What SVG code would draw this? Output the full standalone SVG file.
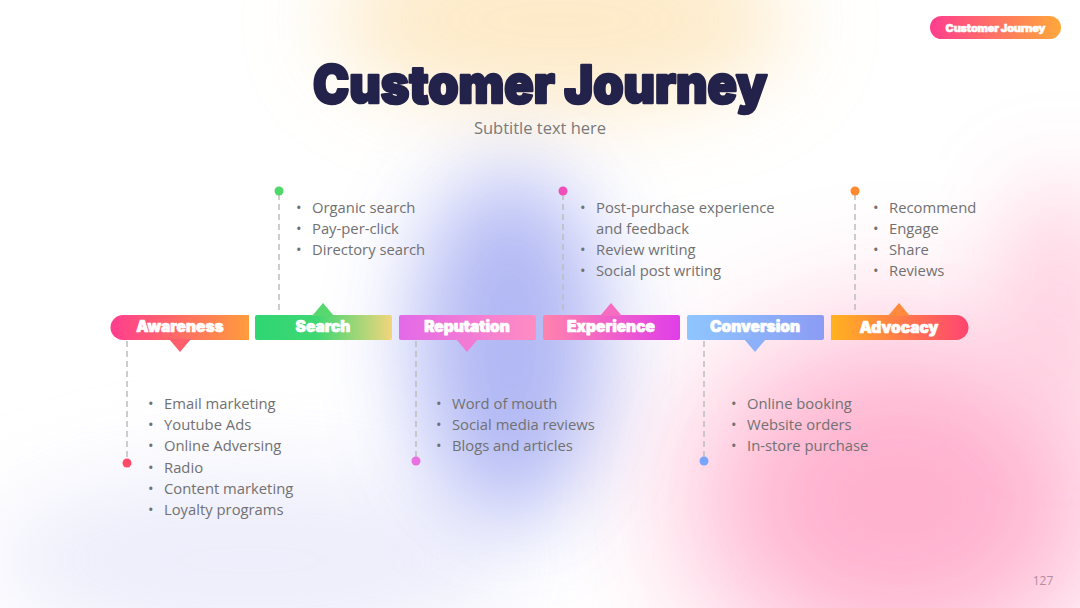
<svg xmlns="http://www.w3.org/2000/svg" width="1080" height="608" viewBox="0 0 1080 608">
<defs>
<style>
.lbl{font-family:Inter,"Liberation Sans",sans-serif;font-weight:900;font-size:15.5px;fill:#fff;stroke:#fff;stroke-width:0.7;stroke-linejoin:round;text-anchor:middle}
.li{font-family:"Open Sans","Liberation Sans",sans-serif;font-size:14.8px;fill:#717171}
.dash{stroke:#bdbdbd;stroke-width:1.5;stroke-dasharray:6 4;fill:none}
</style>
<filter id="blur" x="-50%" y="-50%" width="200%" height="200%"><feGaussianBlur stdDeviation="45"/></filter>
<filter id="blur2" x="-50%" y="-50%" width="200%" height="200%"><feGaussianBlur stdDeviation="70"/></filter>
<linearGradient id="gAw" x1="0" x2="1"><stop offset="0" stop-color="#ff3d8e"/><stop offset="1" stop-color="#ff9c3c"/></linearGradient>
<linearGradient id="gSe" x1="0" x2="1"><stop offset="0" stop-color="#2fd673"/><stop offset="0.45" stop-color="#3fd772"/><stop offset="1" stop-color="#f2d57c"/></linearGradient>
<linearGradient id="gRe" x1="0" x2="1"><stop offset="0" stop-color="#e36ae8"/><stop offset="1" stop-color="#ff8cc2"/></linearGradient>
<linearGradient id="gEx" x1="0" x2="1"><stop offset="0" stop-color="#ff82ad"/><stop offset="1" stop-color="#e03ee8"/></linearGradient>
<linearGradient id="gCo" x1="0" x2="1"><stop offset="0" stop-color="#8fc6ff"/><stop offset="1" stop-color="#8b9cf4"/></linearGradient>
<linearGradient id="gAd" x1="0" x2="1"><stop offset="0" stop-color="#ffb21f"/><stop offset="1" stop-color="#ff4571"/></linearGradient>
<linearGradient id="gPill" x1="0" x2="1"><stop offset="0" stop-color="#ff3d8e"/><stop offset="1" stop-color="#ffa83a"/></linearGradient>
</defs>
<rect width="1080" height="608" fill="#ffffff"/>
<g id="background">
<ellipse cx="560" cy="20" rx="230" ry="90" fill="#fde3b5" opacity="0.75" filter="url(#blur)"/>
<ellipse cx="250" cy="560" rx="260" ry="90" fill="#e9e9fb" opacity="0.8" filter="url(#blur)"/>
<ellipse cx="510" cy="345" rx="95" ry="175" fill="#a3aaf2" opacity="0.85" filter="url(#blur)"/>
<ellipse cx="900" cy="500" rx="210" ry="170" fill="#ffaccb" opacity="0.95" filter="url(#blur2)"/>
<ellipse cx="1060" cy="300" rx="60" ry="120" fill="#ffc0d6" opacity="0.7" filter="url(#blur)"/>
</g>
<g id="header">
<text x="540" y="103" font-family="Inter,'Liberation Sans',sans-serif" font-weight="900" font-size="52" fill="#22224a" stroke="#22224a" stroke-width="2.6" stroke-linejoin="round" text-anchor="middle" textLength="454" lengthAdjust="spacingAndGlyphs">Customer Journey</text>
<text x="540" y="134" font-family="'Open Sans','Liberation Sans',sans-serif" font-size="16.5" fill="#7a7a7a" text-anchor="middle">Subtitle text here</text>
<rect x="930" y="16" width="131" height="23" rx="11.5" fill="url(#gPill)"/>
<text x="995.5" y="31.5" font-family="Inter,'Liberation Sans',sans-serif" font-weight="900" font-size="11" fill="#fff" stroke="#fff" stroke-width="0.5" text-anchor="middle" letter-spacing="-0.2">Customer Journey</text>
<text x="1043" y="585" font-family="'Open Sans','Liberation Sans',sans-serif" font-size="12" fill="#b68c9e" text-anchor="middle">127</text>
</g>
<g id="connectors">
<line class="dash" x1="127" y1="341" x2="127" y2="460"/>
<line class="dash" x1="279" y1="194" x2="279" y2="314"/>
<line class="dash" x1="416" y1="341" x2="416" y2="458"/>
<line class="dash" x1="563" y1="194" x2="563" y2="314"/>
<line class="dash" x1="704" y1="341" x2="704" y2="458"/>
<line class="dash" x1="855" y1="194" x2="855" y2="314"/>
<circle cx="127" cy="463" r="4.5" fill="#ff4a6a"/>
<circle cx="279" cy="191" r="4.5" fill="#4fd76a"/>
<circle cx="416" cy="461" r="4.5" fill="#ea6fe0"/>
<circle cx="563" cy="191" r="4.5" fill="#f04fb9"/>
<circle cx="704" cy="461" r="4.5" fill="#78a6ff"/>
<circle cx="855" cy="191" r="4.5" fill="#ff8a2e"/>
</g>
<g id="awareness">
<path d="M123,315 H249 V340 H123 A12.5,12.5 0 0 1 123,315 Z" fill="url(#gAw)"/>
<path d="M169,339 L191,339 L180,352 Z" fill="#ff5f6c"/>
<text class="lbl" x="180" y="332">Awareness</text>
<text class="li" x="148" y="409">•</text><text class="li" x="164" y="409">Email marketing</text>
<text class="li" x="148" y="430">•</text><text class="li" x="164" y="430">Youtube Ads</text>
<text class="li" x="148" y="451">•</text><text class="li" x="164" y="451">Online Adversing</text>
<text class="li" x="148" y="473">•</text><text class="li" x="164" y="473">Radio</text>
<text class="li" x="148" y="494">•</text><text class="li" x="164" y="494">Content marketing</text>
<text class="li" x="148" y="515">•</text><text class="li" x="164" y="515">Loyalty programs</text>
</g>
<g id="search">
<rect x="255" y="315" width="137" height="25" rx="2" fill="url(#gSe)"/>
<path d="M312,316 L334,316 L323,303 Z" fill="#56d86f"/>
<text class="lbl" x="323" y="332">Search</text>
<text class="li" x="296" y="213">•</text><text class="li" x="312" y="213">Organic search</text>
<text class="li" x="296" y="234">•</text><text class="li" x="312" y="234">Pay-per-click</text>
<text class="li" x="296" y="255">•</text><text class="li" x="312" y="255">Directory search</text>
</g>
<g id="reputation">
<rect x="399" y="315" width="137" height="25" rx="2" fill="url(#gRe)"/>
<path d="M456,339 L478,339 L467,352 Z" fill="#f07ad4"/>
<text class="lbl" x="467" y="332">Reputation</text>
<text class="li" x="436" y="409">•</text><text class="li" x="452" y="409">Word of mouth</text>
<text class="li" x="436" y="430">•</text><text class="li" x="452" y="430">Social media reviews</text>
<text class="li" x="436" y="451">•</text><text class="li" x="452" y="451">Blogs and articles</text>
</g>
<g id="experience">
<rect x="543" y="315" width="137" height="25" rx="2" fill="url(#gEx)"/>
<path d="M600,316 L622,316 L611,303 Z" fill="#f56cc0"/>
<text class="lbl" x="611" y="332">Experience</text>
<text class="li" x="580" y="213">•</text><text class="li" x="596" y="213">Post-purchase experience</text>
<text class="li" x="596" y="234">and feedback</text>
<text class="li" x="580" y="255">•</text><text class="li" x="596" y="255">Review writing</text>
<text class="li" x="580" y="276">•</text><text class="li" x="596" y="276">Social post writing</text>
</g>
<g id="conversion">
<rect x="687" y="315" width="137" height="25" rx="2" fill="url(#gCo)"/>
<path d="M744,339 L766,339 L755,352 Z" fill="#8cb1fa"/>
<text class="lbl" x="755" y="332">Conversion</text>
<text class="li" x="731" y="409">•</text><text class="li" x="747" y="409">Online booking</text>
<text class="li" x="731" y="430">•</text><text class="li" x="747" y="430">Website orders</text>
<text class="li" x="731" y="451">•</text><text class="li" x="747" y="451">In-store purchase</text>
</g>
<g id="advocacy">
<path d="M831,315 H956 A12.5,12.5 0 0 1 956,340 H831 Z" fill="url(#gAd)"/>
<path d="M888,316 L910,316 L899,303 Z" fill="#ff8a3e"/>
<text class="lbl" x="899" y="333">Advocacy</text>
<text class="li" x="873" y="213">•</text><text class="li" x="889" y="213">Recommend</text>
<text class="li" x="873" y="234">•</text><text class="li" x="889" y="234">Engage</text>
<text class="li" x="873" y="255">•</text><text class="li" x="889" y="255">Share</text>
<text class="li" x="873" y="276">•</text><text class="li" x="889" y="276">Reviews</text>
</g>
</svg>
